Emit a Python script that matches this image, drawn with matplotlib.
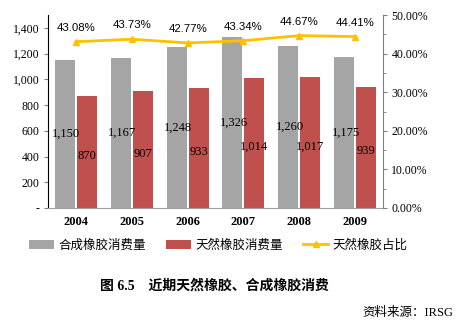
import numpy as np
import matplotlib.pyplot as plt
from matplotlib.ticker import FixedLocator, MultipleLocator, FuncFormatter

plt.rcParams['font.family'] = ['Liberation Serif', 'Noto Sans CJK SC']

years = ['2004', '2005', '2006', '2007', '2008', '2009']
synthetic = [1150, 1167, 1248, 1326, 1260, 1175]
natural = [870, 907, 933, 1014, 1017, 939]
natural_share = [43.08, 43.73, 42.77, 43.34, 44.67, 44.41]

gray = '#A5A5A5'
red = '#C0504D'
yellow = '#FFC000'

fig = plt.figure(figsize=(4.59, 3.25), dpi=100)
ax = fig.add_axes([0.1046, 0.36, 0.7298, 0.5938])
ax2 = ax.twinx()

x = np.arange(len(years))
w = 0.36
b1 = ax.bar(x - 0.197, synthetic, w, color=gray, label='合成橡胶消费量', zorder=2)
b2 = ax.bar(x + 0.197, natural, w, color=red, label='天然橡胶消费量', zorder=2)

# data labels in the middle of the bars
for xi, v in zip(x, synthetic):
    ax.text(xi - 0.17, v / 2, f'{v:,}', ha='center', va='center', fontsize=9)
for xi, v in zip(x, natural):
    ax.text(xi + 0.197, v / 2 - 30, f'{v:,}', ha='center', va='center', fontsize=9)

line, = ax2.plot(x, [s / 100 for s in natural_share], color=yellow, lw=2,
                 marker='^', ms=5, label='天然橡胶占比', zorder=3)
for xi, s in zip(x, natural_share):
    ax2.text(xi, s / 100 + 0.036, f'{s:.2f}%', ha='center', va='center', fontsize=8.2,
             family='Liberation Sans')

ax.set_xlim(-0.5, len(years) - 0.5)
ax.set_ylim(0, 1500)
ax2.set_ylim(0, 0.5)

ax.yaxis.set_major_locator(FixedLocator(range(0, 1401, 200)))
ax.yaxis.set_major_formatter(FuncFormatter(lambda v, p: '-' if v == 0 else f'{int(v):,}'))
ax2.yaxis.set_major_locator(MultipleLocator(0.1))
ax2.yaxis.set_minor_locator(MultipleLocator(0.05))
ax2.yaxis.set_major_formatter(FuncFormatter(lambda v, p: f'{v * 100:.2f}%'))

ax.set_xticks(x)
ax.set_xticklabels(years, fontweight='bold', fontsize=9)
ax.tick_params(axis='x', length=0, pad=6)
ax.tick_params(axis='y', labelsize=8.5, length=3, color='#808080', pad=3)
ax2.tick_params(axis='y', which='major', labelsize=8.5, length=3, color='#808080', pad=3)
ax2.tick_params(axis='y', which='minor', length=2, color='#808080')

for a in (ax, ax2):
    a.spines['top'].set_visible(False)
ax.spines['left'].set_color('black')
ax.spines['right'].set_visible(False)
ax2.spines['left'].set_visible(False)
ax2.spines['right'].set_color('#808080')
ax.spines['bottom'].set_color('#A0A0A0')
ax2.spines['bottom'].set_visible(False)

fig.legend(handles=[b1, b2, line], loc='center', bbox_to_anchor=(0.476, 0.245),
           ncol=3, frameon=False, handlelength=2.0, handleheight=0.8,
           columnspacing=1.6, handletextpad=0.35,
           prop={'family': ['Noto Sans CJK SC'], 'size': 9})

fig.text(0.468, 0.12, '图 6.5\u3000近期天然橡胶、合成橡胶消费', ha='center', va='center',
         fontsize=10, fontweight='bold', family=['Liberation Serif', 'Noto Sans CJK SC'])
fig.text(0.987, 0.037, '资料来源：IRSG', ha='right', va='center', fontsize=9,
         family=['Liberation Serif', 'Noto Sans CJK SC'])

fig.savefig('out.png', dpi=100)
